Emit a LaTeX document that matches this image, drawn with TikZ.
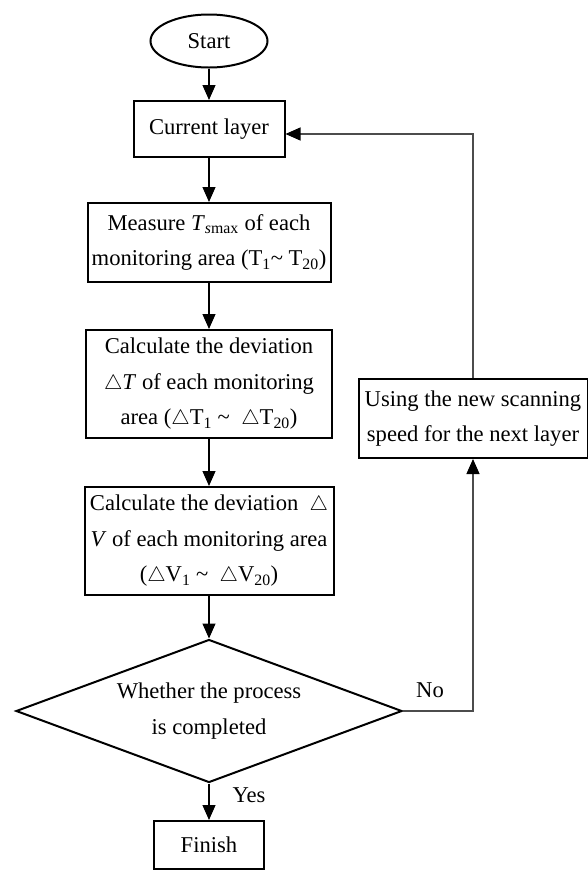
\documentclass[tikz,border=0pt]{standalone}
\usepackage{fontspec}
\setmainfont{Liberation Serif}
\usetikzlibrary{shapes.geometric,arrows.meta}
\begin{document}
\begin{tikzpicture}[x=1pt,y=-1pt,
  every node/.style={font=\fontsize{22.6}{35.5}\selectfont, inner sep=0pt},
  proc/.style={draw, line width=2pt, rectangle, align=center},
  term/.style={draw, line width=2pt, ellipse},
  decide/.style={draw, line width=2pt, diamond, align=center, aspect=2.7},
  arr/.style={line width=1.2pt, -{Triangle[width=13pt,length=15pt]}},
  loopline/.style={line width=1.1pt, draw=black!70, -{Triangle[width=13pt,length=15pt,color=black]}},
]
\useasboundingbox (0,0) rectangle (588,871);
\node[term, minimum width=117pt, minimum height=53pt] (start) at (209,41) {Start};
\node[proc, minimum width=151pt, minimum height=56pt] (cur) at (209,129) {Current layer};
\node[proc, minimum width=243pt, minimum height=79pt] (meas) at (209,242.5)
  {Measure \textit{T}\textsubscript{\textit{s}max} of each\\monitoring area (T\textsubscript{1}\textasciitilde{} T\textsubscript{20})};
\node[proc, minimum width=246pt, minimum height=108pt] (calct) at (209,384)
  {Calculate the deviation\\$\triangle$\textit{T} of each monitoring\\area ($\triangle$T\textsubscript{1} \textasciitilde{}\ \ $\triangle$T\textsubscript{20})};
\node[proc, minimum width=249pt, minimum height=108pt] (calcv) at (209,541)
  {Calculate the deviation\ \ $\triangle$\\\textit{V} of each monitoring area\\($\triangle$V\textsubscript{1} \textasciitilde{}\ \ $\triangle$V\textsubscript{20})};
\node[decide, minimum width=386pt, minimum height=143pt] (dec) at (209,711)
  {Whether the process\\is completed};
\node[proc, minimum width=110pt, minimum height=48pt] (fin) at (209,845) {Finish};
\node[proc, minimum width=229pt, minimum height=79pt] (use) at (473,418.5)
  {Using the new scanning\\speed for the next layer};
\coordinate (cr) at (473,711);
\coordinate (ct) at (473,134);
\node (no) at (430,690) {No};
\node (yes) at (249,795) {Yes};
\draw[arr] (start) -- (cur);
\draw[arr] (cur) -- (meas);
\draw[arr] (meas) -- (calct);
\draw[arr] (calct) -- (calcv);
\draw[arr] (calcv) -- (dec);
\draw[arr] (dec) -- (fin);
\draw[loopline] (dec.east) -- (cr) -- (use.south);
\draw[loopline] (use.north) -- (ct) -- (cur.east |- ct);
\end{tikzpicture}
\end{document}
